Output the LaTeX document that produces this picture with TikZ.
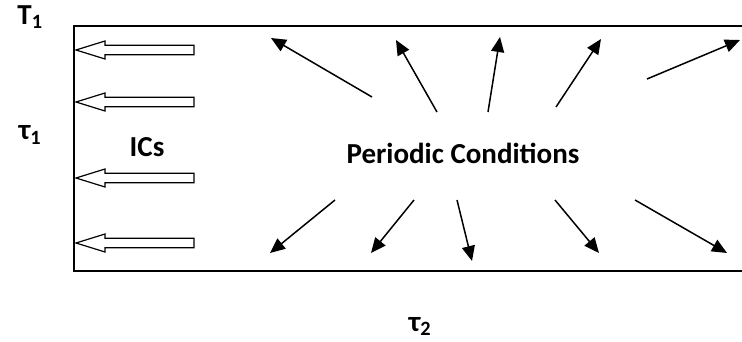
\documentclass[tikz,border=0pt]{standalone}
\usepackage{fontspec}
\setmainfont{Carlito}
\usetikzlibrary{arrows.meta}
\begin{document}
\begin{tikzpicture}[x=1pt,y=-1pt,
  lbl/.style={font=\bfseries\fontsize{29}{32}\selectfont, inner sep=0pt},
  bc/.style={draw=black, line width=1.2pt, fill=white, line join=miter},
  pa/.style={line width=1.5pt, -{Triangle[length=15pt,width=13pt]}}]
\useasboundingbox (0,0) rectangle (742,342);
% domain border (no right side)
\draw[line width=1.3pt] (742,26) -- (74,26) -- (74,271) -- (742,271);
% block arrows (ICs)
\foreach \yy in {50,102,178,243}{
  \draw[bc] (76,\yy) -- (105,\yy-9) -- (105,\yy-4.7) -- (194,\yy-4.7) -- (194,\yy+4.7) -- (105,\yy+4.7) -- (105,\yy+9) -- cycle;
}
% labels
\node[lbl] (T1) at (30,17) {T\textsubscript{1}};
\node[lbl] (tau1) at (30,135) {τ\textsubscript{1}};
\node[lbl] (ics) at (147,147) {ICs};
\node[lbl] (pc) at (463,153) {Periodic Conditions};
\node[lbl, anchor=base] (tau2) at (420,331) {τ\textsubscript{2}};
% top arrows
\coordinate (a1s) at (372,97);  \coordinate (a1e) at (271,38);
\coordinate (a2s) at (437,112); \coordinate (a2e) at (396,40);
\coordinate (a3s) at (488,112); \coordinate (a3e) at (500,37);
\coordinate (a4s) at (556,107); \coordinate (a4e) at (601,39);
\coordinate (a5s) at (647,79);  \coordinate (a5e) at (740,40);
\foreach \i in {1,...,5}{\draw[pa] (a\i s) -- (a\i e);}
% bottom arrows
\coordinate (b1s) at (335,200); \coordinate (b1e) at (270,253);
\coordinate (b2s) at (414,200); \coordinate (b2e) at (371,253);
\coordinate (b3s) at (457,200); \coordinate (b3e) at (472,261);
\coordinate (b4s) at (555,200); \coordinate (b4e) at (599,253);
\coordinate (b5s) at (635,200); \coordinate (b5e) at (727,253);
\foreach \i in {1,...,5}{\draw[pa] (b\i s) -- (b\i e);}
\end{tikzpicture}
\end{document}
